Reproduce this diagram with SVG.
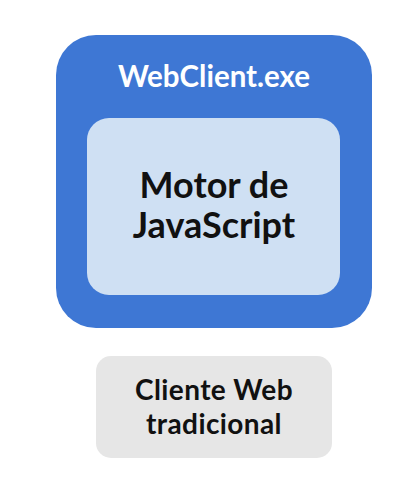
<svg xmlns="http://www.w3.org/2000/svg" width="413" height="482" viewBox="0 0 413 482">
<style>
.t{font-family:Lato,"Liberation Sans",sans-serif;font-weight:bold;text-anchor:middle}
</style>
<rect width="413" height="482" fill="#ffffff"/>
<g id="webclient">
<rect x="56" y="35" width="316" height="293" rx="40" fill="#3e77d4"/>
<text class="t" x="214" y="87" font-size="29.5" fill="#ffffff">WebClient.exe</text>
</g>
<g id="motor">
<rect x="87" y="118" width="253" height="177" rx="22" fill="#cfe0f3"/>
<text class="t" x="214" y="198" font-size="36" fill="#111111">Motor de</text>
<text class="t" x="214" y="238" font-size="36" fill="#111111">JavaScript</text>
</g>
<g id="cliente">
<rect x="96" y="356" width="236" height="102" rx="15" fill="#e6e6e6"/>
<text class="t" x="214" y="400" font-size="28" letter-spacing="0.4" fill="#111111">Cliente Web</text>
<text class="t" x="214" y="434" font-size="28" letter-spacing="0.4" fill="#111111">tradicional</text>
</g>
<g id="connectors"/>
</svg>
